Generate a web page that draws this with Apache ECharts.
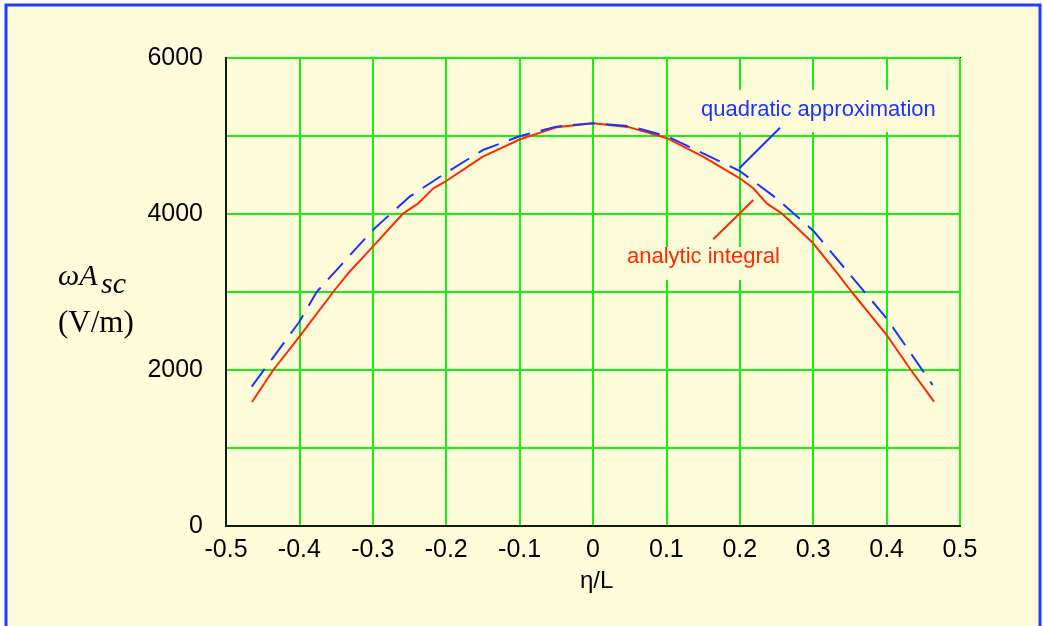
<!DOCTYPE html>
<html>
<head>
<meta charset="utf-8">
<style>
html,body{margin:0;padding:0;background:#ffffff;}
#c{width:1043px;height:626px;}
</style>
<script src="https://cdn.jsdelivr.net/npm/echarts@6/dist/echarts.min.js"></script>
</head>
<body>
<div id="c"></div>
<script>
// analytic integral (red)
var etaRed = [-0.4646, -0.4356, -0.4, -0.354, -0.3347, -0.3, -0.2584, -0.238, -0.2176, -0.2, -0.15, -0.1, -0.05, 0, 0.05, 0.1, 0.15, 0.2, 0.2184, 0.2366, 0.257, 0.3, 0.334, 0.3525, 0.4, 0.4332, 0.4646];
var valRed = [1590, 2000, 2427, 3000, 3227, 3581, 4009, 4137, 4329, 4423, 4735, 4955, 5111, 5163, 5111, 4975, 4735, 4458, 4330, 4137, 4009, 3624, 3227, 3000, 2449, 2000, 1594];
// quadratic approximation (blue)
var etaBlue = [-0.465, -0.4, -0.3765, -0.3, -0.25, -0.2, -0.15, -0.1, -0.05, 0, 0.05, 0.1, 0.15, 0.2, 0.25, 0.3, 0.4, 0.4627];
var valBlue = [1786, 2619, 3000, 3795, 4222, 4530, 4820, 4997, 5120, 5165, 5125, 5000, 4778, 4551, 4201, 3786, 2662, 1808];
// leader lines of the annotations (data units)
var blueLeaderEta = [0.2548, 0.1993];
var blueLeaderVal = [5106, 4586];
var redLeaderEta = [0.2184, 0.1639];
var redLeaderVal = [4179, 3676];

function pairs(xs, ys) { return xs.map(function (x, i) { return [x, ys[i]]; }); }

var chart = echarts.init(document.getElementById('c'), null, {renderer: 'canvas'});
var green = '#14f014';
var frame = '#0b1f0b';
var paper = '#fffcd9';
chart.setOption({
  backgroundColor: '#ffffff',
  animation: false,
  grid: {left: 226, right: 83, top: 58, bottom: 100, show: true, borderColor: frame, borderWidth: 2, backgroundColor: 'transparent'},
  xAxis: {
    type: 'value', min: -0.5, max: 0.5, interval: 0.1,
    axisLine: {show: true, onZero: false, lineStyle: {color: frame, width: 2}},
    axisTick: {show: false},
    splitLine: {show: true, lineStyle: {color: green, width: 2}},
    axisLabel: {
      margin: 12, color: '#000', fontSize: 25, fontFamily: 'Liberation Sans, Arial, sans-serif',
      formatter: function (v) { var r = Math.round(v * 10) / 10; return r === 0 ? '0' : r.toFixed(1); }
    }
  },
  yAxis: {
    type: 'value', min: 0, max: 6000, interval: 1000,
    axisLine: {show: true, onZero: false, lineStyle: {color: frame, width: 2}},
    axisTick: {show: false},
    splitLine: {show: true, lineStyle: {color: green, width: 2}},
    axisLabel: {
      margin: 23, color: '#000', fontSize: 25, fontFamily: 'Liberation Sans, Arial, sans-serif',
      formatter: function (v) { return (Math.round(v) % 2000 === 0) ? String(Math.round(v)) : ''; }
    }
  },
  series: [
    {
      type: 'line', name: 'analytic integral', data: pairs(etaRed, valRed),
      showSymbol: false, symbol: 'none', z: 3,
      lineStyle: {color: '#ff2a00', width: 2},
      markLine: {
        silent: true, symbol: 'none', label: {show: false},
        lineStyle: {color: '#ff2a00', width: 2, type: 'solid'},
        data: [[{coord: [redLeaderEta[0], redLeaderVal[0]]}, {coord: [redLeaderEta[1], redLeaderVal[1]]}]]
      }
    },
    {
      type: 'line', name: 'quadratic approximation', data: pairs(etaBlue, valBlue),
      showSymbol: false, symbol: 'none', z: 4,
      lineStyle: {color: '#1a33ff', width: 2, type: [22, 11]},
      markLine: {
        silent: true, symbol: 'none', label: {show: false},
        lineStyle: {color: '#1a33ff', width: 2, type: 'solid'},
        data: [[{coord: [blueLeaderEta[0], blueLeaderVal[0]]}, {coord: [blueLeaderEta[1], blueLeaderVal[1]]}]]
      }
    }
  ],
  graphic: [
    {type: 'rect', z: -10, silent: true, shape: {x: 6, y: 5, width: 1034, height: 640},
     style: {fill: paper, stroke: '#1f3cff', lineWidth: 3}},
    {type: 'rect', z: 1, silent: true, shape: {x: 695, y: 90, width: 250, height: 42}, style: {fill: paper}},
    {type: 'rect', z: 1, silent: true, shape: {x: 620, y: 247, width: 168, height: 33}, style: {fill: paper}},
    {type: 'text', z: 1, left: 701, top: 99, silent: true,
     style: {text: 'quadratic approximation', fill: '#1a33ff', font: '22px "Liberation Sans", Arial, sans-serif'}},
    {type: 'text', z: 1, left: 627, top: 246, silent: true,
     style: {text: 'analytic integral', fill: '#ff2a00', font: '22px "Liberation Sans", Arial, sans-serif'}},
    {type: 'text', left: 58, top: 262, silent: true,
     style: {text: 'ωA', fill: '#000', font: 'italic 30px "Liberation Serif", "Times New Roman", serif'}},
    {type: 'text', left: 101, top: 270, silent: true,
     style: {text: 'sc', fill: '#000', font: 'italic 30px "Liberation Serif", "Times New Roman", serif'}},
    {type: 'text', left: 58, top: 308, silent: true,
     style: {text: '(V/m)', fill: '#000', font: '31px "Liberation Serif", "Times New Roman", serif'}},
    {type: 'text', left: 580, top: 569, silent: true,
     style: {text: 'η/L', fill: '#000', font: '24px "Liberation Sans", Arial, sans-serif'}}
  ]
});
</script>
</body>
</html>
